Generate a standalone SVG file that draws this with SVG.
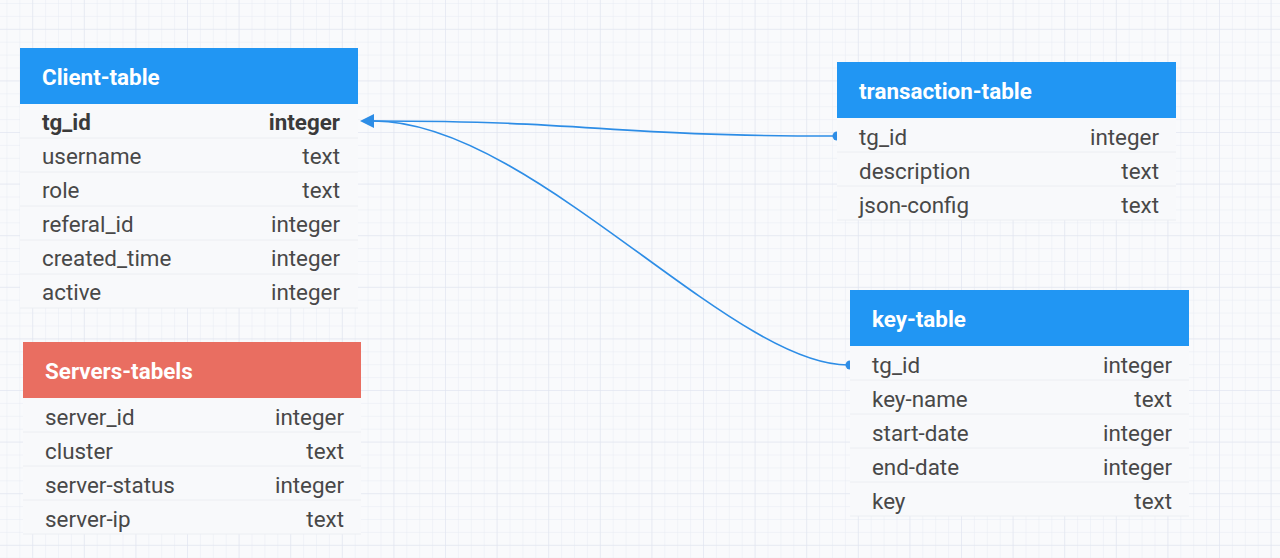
<svg xmlns="http://www.w3.org/2000/svg" width="1280" height="558" viewBox="0 0 1280 558">
<style>
.hdr{fill:#2196f3}
.hdr-red{fill:#e96e61}
.title{font-family:Roboto,"Liberation Sans",sans-serif;font-weight:700;font-size:22.4px;fill:#ffffff}
.row{fill:#f8f9fb}
.sep{stroke:#eceef2;stroke-width:1}
.f{font-family:Roboto,"Liberation Sans",sans-serif;font-size:22.4px;fill:#484848}
.r{text-anchor:end}
.b{font-weight:700;fill:#3a3a3a}
.conn{fill:none;stroke:#2d8de6;stroke-width:1.6}
.dot{fill:#2d8de6}
</style>
<defs>
<pattern id="minor" width="12.9" height="12.9" patternUnits="userSpaceOnUse" x="6.4" y="3">
<path d="M0 0H12.9M0 0V12.9" fill="none" stroke="#e8ebf4" stroke-width="1"/>
</pattern>
<pattern id="major" width="51.6" height="51.6" patternUnits="userSpaceOnUse" x="32.2" y="28.8">
<path d="M0 0H51.6M0 0V51.6" fill="none" stroke="#dfe3f0" stroke-width="1"/>
</pattern>
</defs>
<rect width="1280" height="558" fill="#f9fafc"/>
<rect width="1280" height="558" fill="url(#minor)"/>
<rect width="1280" height="558" fill="url(#major)"/>

<g id="connectors">
<path class="conn" d="M835 136 C600 136 600 121 374 121"/>
<path class="conn" d="M848 365 C730 365 530 121 374 121"/>
<path d="M360 121L374 114L374 128Z" class="dot"/>
<path class="dot" d="M837 131.5A4.5 4.5 0 0 0 837 140.5Z"/>
<path class="dot" d="M850 360.5A4.5 4.5 0 0 0 850 369.5Z"/>
</g>

<g id="client-table">
<rect class="row" x="20" y="104" width="338" height="204"/>
<rect class="hdr" x="20" y="48" width="338" height="56"/>
<text class="title" x="42" y="85">Client-table</text>
<line class="sep" x1="20" y1="138" x2="358" y2="138"/>
<line class="sep" x1="20" y1="172" x2="358" y2="172"/>
<line class="sep" x1="20" y1="206" x2="358" y2="206"/>
<line class="sep" x1="20" y1="240" x2="358" y2="240"/>
<line class="sep" x1="20" y1="274" x2="358" y2="274"/>
<line class="sep" x1="20" y1="308" x2="358" y2="308"/>
<text class="f b" x="42" y="130">tg_id</text><text class="f b r" x="340" y="130">integer</text>
<text class="f" x="42" y="164">username</text><text class="f r" x="340" y="164">text</text>
<text class="f" x="42" y="198">role</text><text class="f r" x="340" y="198">text</text>
<text class="f" x="42" y="232">referal_id</text><text class="f r" x="340" y="232">integer</text>
<text class="f" x="42" y="266">created_time</text><text class="f r" x="340" y="266">integer</text>
<text class="f" x="42" y="300">active</text><text class="f r" x="340" y="300">integer</text>
</g>

<g id="servers-tabels">
<rect class="row" x="23" y="398" width="338" height="136"/>
<rect class="hdr-red" x="23" y="342" width="338" height="56"/>
<text class="title" x="45" y="379">Servers-tabels</text>
<line class="sep" x1="23" y1="432" x2="361" y2="432"/>
<line class="sep" x1="23" y1="466" x2="361" y2="466"/>
<line class="sep" x1="23" y1="500" x2="361" y2="500"/>
<line class="sep" x1="23" y1="534" x2="361" y2="534"/>
<text class="f" x="45" y="425">server_id</text><text class="f r" x="344" y="425">integer</text>
<text class="f" x="45" y="459">cluster</text><text class="f r" x="344" y="459">text</text>
<text class="f" x="45" y="493">server-status</text><text class="f r" x="344" y="493">integer</text>
<text class="f" x="45" y="527">server-ip</text><text class="f r" x="344" y="527">text</text>
</g>

<g id="transaction-table">
<rect class="row" x="837" y="118" width="339" height="102"/>
<rect class="hdr" x="837" y="62" width="339" height="56"/>
<text class="title" x="859" y="99">transaction-table</text>
<line class="sep" x1="837" y1="152" x2="1176" y2="152"/>
<line class="sep" x1="837" y1="186" x2="1176" y2="186"/>
<line class="sep" x1="837" y1="220" x2="1176" y2="220"/>
<text class="f" x="859" y="145">tg_id</text><text class="f r" x="1159" y="145">integer</text>
<text class="f" x="859" y="179">description</text><text class="f r" x="1159" y="179">text</text>
<text class="f" x="859" y="213">json-config</text><text class="f r" x="1159" y="213">text</text>
</g>

<g id="key-table">
<rect class="row" x="850" y="346" width="339" height="170"/>
<rect class="hdr" x="850" y="290" width="339" height="56"/>
<text class="title" x="872" y="327">key-table</text>
<line class="sep" x1="850" y1="380" x2="1189" y2="380"/>
<line class="sep" x1="850" y1="414" x2="1189" y2="414"/>
<line class="sep" x1="850" y1="448" x2="1189" y2="448"/>
<line class="sep" x1="850" y1="482" x2="1189" y2="482"/>
<line class="sep" x1="850" y1="516" x2="1189" y2="516"/>
<text class="f" x="872" y="373">tg_id</text><text class="f r" x="1172" y="373">integer</text>
<text class="f" x="872" y="407">key-name</text><text class="f r" x="1172" y="407">text</text>
<text class="f" x="872" y="441">start-date</text><text class="f r" x="1172" y="441">integer</text>
<text class="f" x="872" y="475">end-date</text><text class="f r" x="1172" y="475">integer</text>
<text class="f" x="872" y="509">key</text><text class="f r" x="1172" y="509">text</text>
</g>
</svg>
